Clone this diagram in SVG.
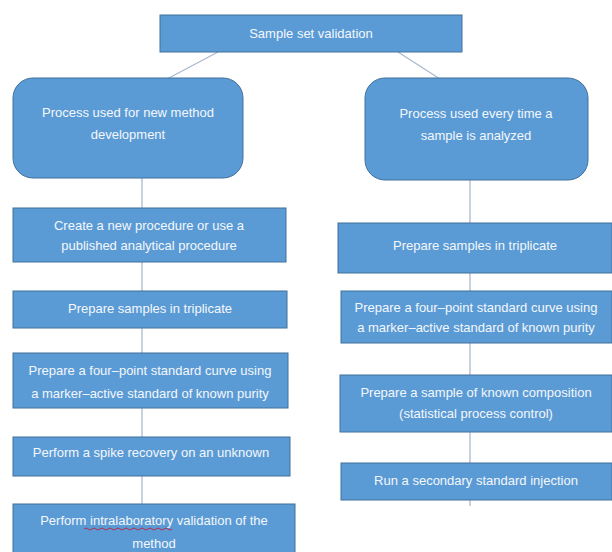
<svg xmlns="http://www.w3.org/2000/svg" width="612" height="552" viewBox="0 0 612 552">
<style>
.box{fill:#5b9bd5;stroke:#41719c;stroke-width:1}
.t{font-family:"Liberation Sans",Arial,sans-serif;font-size:13px;fill:#f4f7fb;text-anchor:middle}
.c{stroke:#a9b9d0;stroke-width:1.3;fill:none}
</style>
<rect width="612" height="552" fill="#ffffff"/>
<g id="connectors">
<line class="c" x1="218" y1="52" x2="167" y2="79"/>
<line class="c" x1="398" y1="52" x2="440" y2="79"/>
<line class="c" x1="142" y1="178" x2="142" y2="504"/>
<line class="c" x1="470" y1="180" x2="470" y2="506"/>
</g>
<g id="n-root">
<rect class="box" x="160" y="15" width="302" height="37"/>
<text class="t" x="311" y="38">Sample set validation</text>
</g>
<g id="n-left">
<rect class="box" x="13" y="78" width="230" height="100" rx="20"/>
<text class="t" x="128" y="117">Process used for new method</text>
<text class="t" x="128" y="139">development</text>
</g>
<g id="n-right">
<rect class="box" x="365" y="78" width="223" height="102" rx="20"/>
<text class="t" x="476" y="118">Process used every time a</text>
<text class="t" x="476" y="140">sample is analyzed</text>
</g>
<g id="n-l1">
<rect class="box" x="13" y="208" width="273" height="54"/>
<text class="t" x="149" y="230">Create a new procedure or use a</text>
<text class="t" x="149" y="250">published analytical procedure</text>
</g>
<g id="n-l2">
<rect class="box" x="13" y="291" width="274" height="37"/>
<text class="t" x="150" y="313">Prepare samples in triplicate</text>
</g>
<g id="n-l3">
<rect class="box" x="13" y="353" width="275" height="55"/>
<text class="t" x="150" y="375">Prepare a four–point standard curve using</text>
<text class="t" x="150" y="398">a marker–active standard of known purity</text>
</g>
<g id="n-l4">
<rect class="box" x="13" y="437" width="277" height="39"/>
<text class="t" x="151" y="457">Perform a spike recovery on an unknown</text>
</g>
<g id="n-l5">
<rect class="box" x="13" y="504" width="282" height="52"/>
<text class="t" x="154" y="525">Perform intralaboratory validation of the</text>
<text class="t" x="154" y="548">method</text>
<path d="M84 529 q2 -2 4 0 t4 0 t4 0 t4 0 t4 0 t4 0 t4 0 t4 0 t4 0 t4 0 t4 0 t4 0 t4 0 t4 0 t4 0 t4 0 t4 0 t4 0 t4 0 t4 0 t4 0 t4 0" stroke="#b0304a" stroke-width="1" fill="none"/>
</g>
<g id="n-r1">
<rect class="box" x="338" y="223" width="274" height="50"/>
<text class="t" x="475" y="250">Prepare samples in triplicate</text>
</g>
<g id="n-r2">
<rect class="box" x="341" y="291" width="271" height="52"/>
<text class="t" x="476" y="312">Prepare a four–point standard curve using</text>
<text class="t" x="476" y="332">a marker–active standard of known purity</text>
</g>
<g id="n-r3">
<rect class="box" x="340" y="375" width="272" height="57"/>
<text class="t" x="476" y="397">Prepare a sample of known composition</text>
<text class="t" x="476" y="418">(statistical process control)</text>
</g>
<g id="n-r4">
<rect class="box" x="341" y="463" width="271" height="37"/>
<text class="t" x="476" y="485">Run a secondary standard injection</text>
</g>
</svg>
